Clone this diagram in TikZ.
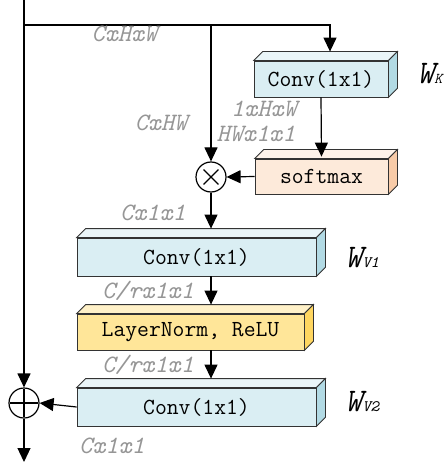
\documentclass[tikz,border=0pt]{standalone}
\usepackage{fontspec}
\usepackage{tikz}
\usetikzlibrary{arrows.meta}
\definecolor{convfront}{RGB}{218,238,243}
\definecolor{convtop}{RGB}{234,245,248}
\definecolor{convside}{RGB}{178,218,228}
\definecolor{softfront}{RGB}{253,234,218}
\definecolor{softtop}{RGB}{254,243,234}
\definecolor{softside}{RGB}{248,203,168}
\definecolor{normfront}{RGB}{255,230,153}
\definecolor{normtop}{RGB}{255,241,200}
\definecolor{normside}{RGB}{255,214,96}
\definecolor{lblgray}{RGB}{150,150,150}

\begin{document}
\begin{tikzpicture}[x=1pt,y=-1pt,line width=1.2pt,-{Triangle[length=14pt,width=13pt]}]
   \useasboundingbox (0,0) rectangle (444,465);
   \tikzstyle{block}=[draw=black!80,line width=0.8pt,inner sep=0pt,font=\fontsize{23}{23}\selectfont\ttfamily]
   \tikzstyle{dim}=[color=lblgray,font=\fontsize{25}{25}\selectfont\ttfamily\itshape]
   \tikzstyle{wname}=[anchor=base west,font=\fontsize{33}{33}\selectfont\ttfamily\itshape]
   \tikzstyle{op}=[circle,draw,fill=white,minimum size=30pt,inner sep=0pt]
   \node[block,fill=convfront,minimum width=134pt,minimum height=36pt] (wk) at (321,79) {Conv(1x1)};
   \node[block,fill=softfront,minimum width=133pt,minimum height=35pt] (soft) at (321.5,176.5) {softmax};
   \node[block,fill=convfront,minimum width=239pt,minimum height=38pt] (wv1) at (196.5,257) {Conv(1x1)};
   \node[block,fill=normfront,minimum width=227pt,minimum height=36pt] (norm) at (190.5,332) {LayerNorm, ReLU};
   \node[block,fill=convfront,minimum width=239pt,minimum height=38pt] (wv2) at (196.5,407) {Conv(1x1)};
   \foreach \n/\t/\s in {wk/convtop/convside,soft/softtop/softside,wv1/convtop/convside,norm/normtop/normside,wv2/convtop/convside} {
       \filldraw[-,draw=black!80,line width=0.8pt,fill=\t] (\n.north west) -- ++(9,-9) -- ([shift={(9,-9)}]\n.north east) -- (\n.north east) -- cycle;
       \filldraw[-,draw=black!80,line width=0.8pt,fill=\s] (\n.north east) -- ++(9,-9) -- ([shift={(9,-9)}]\n.south east) -- (\n.south east) -- cycle;
   }
   \node[op] (mul) at (211,177) {};
   \draw[-,shorten >=5pt,shorten <=5pt] (mul.north west) -- (mul.south east);
   \draw[-,shorten >=5pt,shorten <=5pt] (mul.north east) -- (mul.south west);
   \node[op] (add) at (24,403) {};
   \draw[-,shorten >=2pt,shorten <=2pt] (add.north) -- (add.south);
   \draw[-,shorten >=2pt,shorten <=2pt] (add.west) -- (add.east);
   \coordinate (in) at (24,0);
   \coordinate (split) at (24,25);
   \coordinate (out) at (24,462);
   \coordinate (wktop) at ([shift={(9,-9)}]wk.north);
   \coordinate (softtop) at ([yshift=2pt]soft.north);
   \coordinate (v1top) at ([yshift=9pt]wv1.north);
   \coordinate (normtop) at ([yshift=9pt]norm.north);
   \coordinate (v2top) at ([yshift=9pt]wv2.north);
   % main path and residual
   \draw (in) -- (add.north);
   \draw (split) -| (wktop);
   \draw (split -| mul) -- (mul.north);
   \draw (wk.south) -- (softtop);
   \draw (soft.west) -- (mul.east);
   \draw (mul.south) -- (mul.south |- v1top);
   \draw (wv1.south -| mul) -- (mul |- normtop);
   \draw (norm.south -| mul) -- (mul |- v2top);
   \draw (wv2.west) -- (add.east);
   \draw (add.south) -- (out);
   % shapes of the tensors
   \node[dim] (d0) at (124.5,34) {CxHxW};
   \node[dim] (d1) at (161,123) {CxHW};
   \node[dim] (d2) at (264,109) {1xHxW};
   \node[dim] (d3) at (256,134) {HWx1x1};
   \node[dim] (d4) at (153,213) {Cx1x1};
   \node[dim] (d5) at (148,291) {C/rx1x1};
   \node[dim] (d6) at (148,365) {C/rx1x1};
   \node[dim] (d7) at (112,446) {Cx1x1};
   % weights
   \node[wname] (lk) at (413,84) {W\fontsize{15}{15}\selectfont K};
   \node[wname] (lv1) at (341,267) {W\fontsize{16}{16}\selectfont V1};
   \node[wname] (lv2) at (341,411) {W\fontsize{16}{16}\selectfont V2};
\end{tikzpicture}
\end{document}
